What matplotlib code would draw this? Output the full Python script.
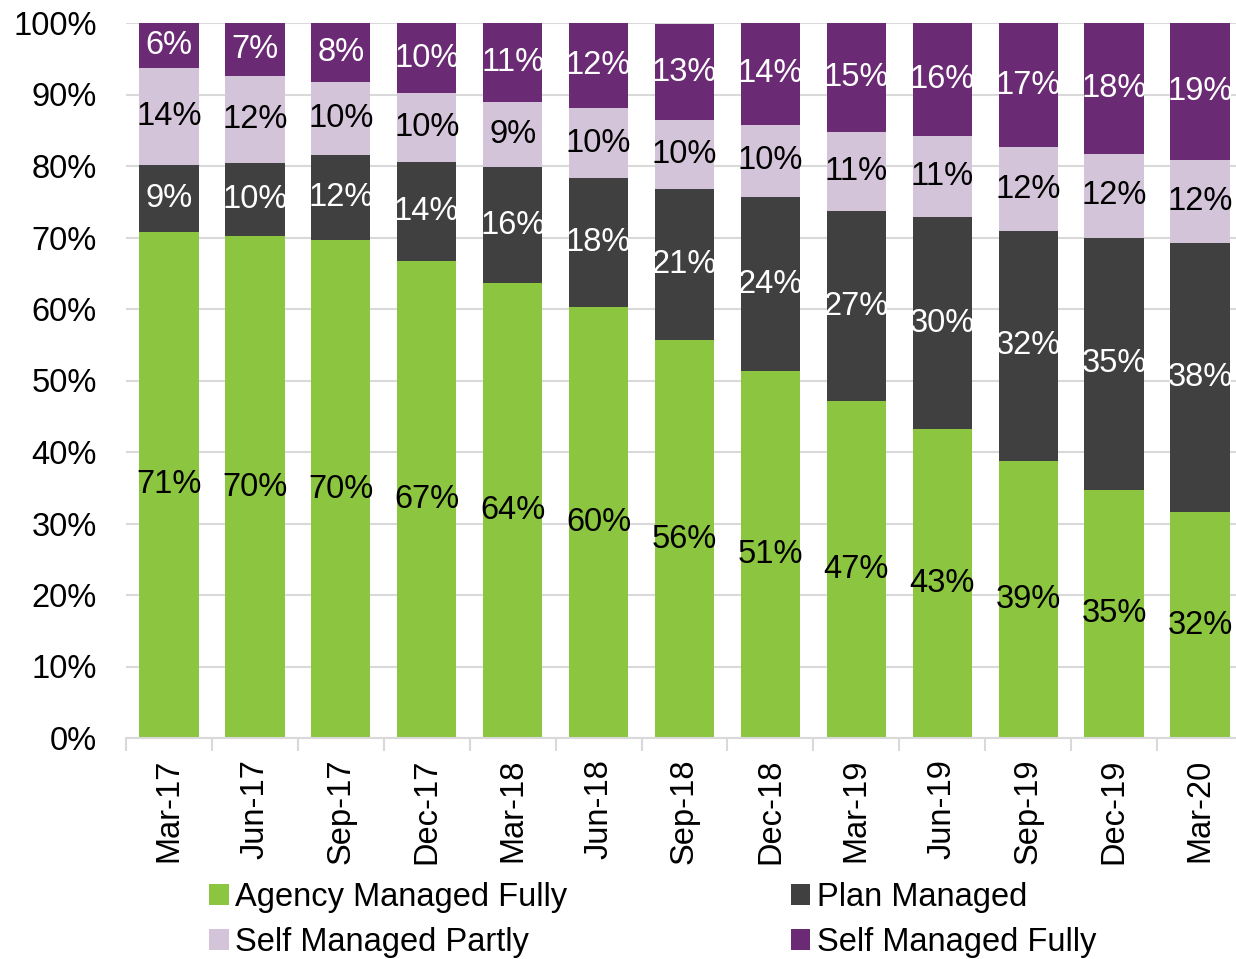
#!/usr/bin/env python3
"""Stacked share of plan management types by quarter."""

import matplotlib

matplotlib.use("Agg")
import matplotlib.pyplot as plt
import numpy as np
from matplotlib.patches import Patch
from matplotlib.ticker import FuncFormatter, MultipleLocator

plt.rcParams["font.family"] = ["Liberation Sans", "DejaVu Sans"]

quarters = ["Mar-17", "Jun-17", "Sep-17", "Dec-17", "Mar-18", "Jun-18", "Sep-18",
            "Dec-18", "Mar-19", "Jun-19", "Sep-19", "Dec-19", "Mar-20"]
agency_managed = [70.8, 70.2, 69.6, 66.7, 63.6, 60.3, 55.6, 51.3, 47.1, 43.2, 38.8, 34.7, 31.6]
plan_managed = [9.3, 10.2, 11.9, 13.8, 16.2, 18.0, 21.2, 24.3, 26.6, 29.6, 32.1, 35.3, 37.6]
self_partly = [13.6, 12.2, 10.3, 9.7, 9.1, 9.8, 9.6, 10.2, 11.0, 11.4, 11.7, 11.7, 11.6]
self_fully = [6.3, 7.4, 8.2, 9.8, 11.1, 11.9, 13.4, 14.2, 15.3, 15.8, 17.4, 18.3, 19.2]

series = [
    ("Agency Managed Fully", agency_managed, "#8CC540", "black"),
    ("Plan Managed", plan_managed, "#404040", "white"),
    ("Self Managed Partly", self_partly, "#D4C4D9", "black"),
    ("Self Managed Fully", self_fully, "#6B2A74", "white"),
]

FS = 23.5


def plot(ax):
    x = np.arange(len(quarters))
    bottom = np.zeros(len(quarters))
    for name, vals, color, txt_color in series:
        vals = np.array(vals)
        ax.bar(x, vals, 0.69, bottom=bottom, color=color, linewidth=0, zorder=2)
        for xi, b, v in zip(x, bottom, vals):
            ax.text(xi, b + v / 2, f"{round(v):.0f}%", ha="center", va="center",
                    fontsize=FS, color=txt_color, zorder=3)
        bottom += vals

    ax.set_xlim(-0.5, len(quarters) - 0.5)
    ax.set_ylim(0, 100)
    ax.yaxis.set_major_locator(MultipleLocator(10))
    ax.yaxis.set_major_formatter(FuncFormatter(lambda v, _: f"{v:.0f}%"))
    ax.grid(axis="y", color="#D9D9D9", linewidth=1.5, zorder=0)

    ax.set_xticks(x)
    ax.set_xticklabels(quarters, rotation=90)
    ax.set_xticks(np.arange(len(quarters) + 1) - 0.5, minor=True)
    ax.tick_params(axis="x", which="major", length=0, pad=15, labelsize=FS)
    ax.tick_params(axis="x", which="minor", length=9, width=1.5, color="#D9D9D9")
    ax.tick_params(axis="y", length=0, pad=21, labelsize=FS)

    for side in ("top", "right", "left"):
        ax.spines[side].set_visible(False)
    ax.spines["bottom"].set_color("#D9D9D9")
    ax.spines["bottom"].set_linewidth(1.5)


def main():
    fig = plt.figure(figsize=(12.36, 9.59), dpi=100)
    ax = fig.add_axes([126 / 1236, 1 - 738 / 959, 1117 / 1236, 715 / 959])
    plot(ax)

    handles = [Patch(facecolor=s[2], label=s[0]) for s in series]
    order = [0, 2, 1, 3]
    fig.legend([handles[i] for i in order], [series[i][0] for i in order],
               ncol=2, loc="upper left", bbox_to_anchor=(209 / 1236, 1 - 882 / 959),
               frameon=False, fontsize=FS, handlelength=0.6, handleheight=0.6,
               handletextpad=0.2, columnspacing=6.85, labelspacing=0.42,
               borderpad=0, borderaxespad=0)

    fig.savefig("out.png", dpi=100)


if __name__ == "__main__":
    main()
